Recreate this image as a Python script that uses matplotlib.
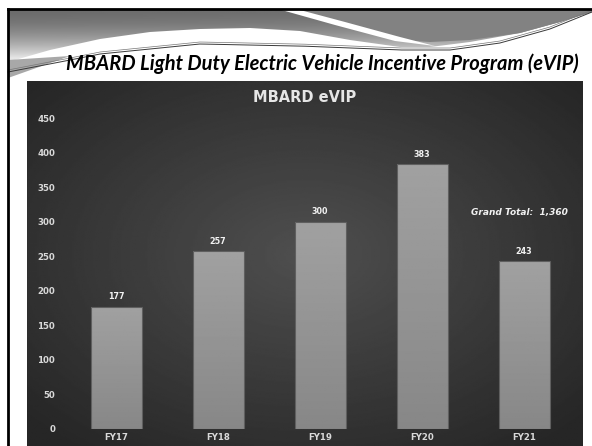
import numpy as np
import matplotlib
matplotlib.use("Agg")
import matplotlib.pyplot as plt
from matplotlib.patches import Polygon

categories = ["FY17", "FY18", "FY19", "FY20", "FY21"]
values = [177, 257, 300, 383, 243]
yticks = [0, 50, 100, 150, 200, 250, 300, 350, 400, 450]
slide_title = "MBARD Light Duty Electric Vehicle Incentive Program (eVIP)"
chart_title = "MBARD eVIP"
grand_total = "Grand Total:  1,360"

W, H = 592, 446
fig = plt.figure(figsize=(W / 100, H / 100), dpi=100)
fig.patch.set_facecolor("white")

deco = fig.add_axes([0, 0, 1, 1])
deco.set_xlim(0, W)
deco.set_ylim(H, 0)
deco.axis("off")

# top gray band with gradient (dark top, light bottom)
yy = np.linspace(0, 1, 100)[:, None]
xx = np.linspace(0, 1, 300)[None, :]
band = np.clip(0.42 + 0.55 * yy ** 1.8 + 0.03 * xx, 0, 0.9)
im = deco.imshow(band, cmap="gray", vmin=0, vmax=1, extent=(8, W, 62, 9),
                 aspect="auto", zorder=1)
px = [8, 592, 592, 560, 520, 470, 430, 400, 350, 300, 250, 200, 150, 100, 50, 8]
py = [9, 9, 12, 22, 33, 42, 47, 47, 40, 31, 28, 29, 32, 39, 50, 62]
clip = Polygon(np.c_[px, py], closed=True, transform=deco.transData)
im.set_clip_path(clip)
# darker region right of the streak
rx = [290, 592, 592, 560, 520, 470, 430, 400, 340]
ry = [9, 9, 12, 22, 33, 40, 42, 40, 22]
deco.add_patch(Polygon(np.c_[rx, ry], closed=True, facecolor="#828282",
                       edgecolor="none", zorder=2))
# small gray sliver bottom-left
deco.add_patch(Polygon([[8, 60], [70, 56], [8, 78]], closed=True,
                       facecolor="#a8a8a8", edgecolor="none", zorder=2))
# white streak
sx = [278, 300, 345, 400, 435, 395, 335]
sy = [9, 10, 22, 37, 46, 41, 25]
deco.add_patch(Polygon(np.c_[sx, sy], closed=True, facecolor="white",
                       edgecolor="none", zorder=3))
# thin curved lines
kx = [8, 50, 100, 200, 300, 400, 450, 500, 550, 592]
ky = [72, 64, 54, 44, 46, 50, 50, 43, 29, 12]
cx = np.linspace(8, 592, 400)
cy = np.interp(cx, kx, ky)
deco.plot(cx, cy, color="#3a3a3a", lw=0.7, zorder=4)
deco.plot(cx, cy - 2, color="#777777", lw=0.5, zorder=4)

# frame
deco.plot([8, 8], [9, H], color="black", lw=2, zorder=5)
deco.plot([8, W], [9, 9], color="black", lw=2, zorder=5)

# slide title
deco.text(322, 64, slide_title, ha="center", va="center", fontsize=14.5,
          fontweight="bold", fontstyle="italic", family="Lato", color="black",
          zorder=5)

# dark chart panel with radial gradient
qx0, qx1, qy0, qy1 = 27, 583, 81, H
gx = np.linspace(-1, 1, 300)[None, :]
gy = np.linspace(-1, 1, 300)[:, None]
r = np.sqrt(gx ** 2 + (gy + 0.05) ** 2)
grad = 0.31 - 0.16 * np.clip(r / 1.35, 0, 1)
deco.imshow(grad, cmap="gray", vmin=0, vmax=1, extent=(qx0, qx1, qy1, qy0),
            aspect="auto", zorder=1)

# chart title
deco.text(305, 97, chart_title, ha="center", va="center", fontsize=10.5,
          fontweight="bold", family="DejaVu Sans", color="#e6e6e6", zorder=5)

# chart axes
ax = fig.add_axes([65 / W, 1 - 429 / H, (575 - 65) / W, (429 - 118) / H])
ax.patch.set_alpha(0)
x = np.arange(len(categories))
bars = ax.bar(x, values, width=0.5, color="#959595", edgecolor="#5f5f5f",
              linewidth=0.8, zorder=3)
ax.set_xlim(-0.5, len(categories) - 0.5)
ax.set_ylim(0, 450)
vg = np.linspace(0, 1, 100)[:, None]
for b in bars:
    bx0, by0 = b.get_x(), b.get_y()
    bw, bh = b.get_width(), b.get_height()
    g = ax.imshow(0.63 - 0.1 * vg, cmap="gray", vmin=0, vmax=1,
                  extent=(bx0, bx0 + bw, by0, by0 + bh), aspect="auto",
                  zorder=3.5, origin="upper")
    g.set_clip_path(b)
    b.set_facecolor("none")
    b.set_zorder(4)
ax.set_xlim(-0.5, len(categories) - 0.5)
ax.set_ylim(0, 450)
for xi, v in zip(x, values):
    ax.text(xi, v + 8, str(v), ha="center", va="bottom", fontsize=5.8,
            fontweight="bold", color="#f2f2f2")
ax.set_yticks(yticks)
ax.set_yticklabels([str(v) for v in yticks])
ax.set_xticks(x)
ax.set_xticklabels(categories)
for s in ax.spines.values():
    s.set_visible(False)
ax.tick_params(axis="both", length=0, colors="#d9d9d9", labelsize=6.2)
ax.tick_params(axis="y", pad=7)
ax.tick_params(axis="x", pad=3)
for lab in ax.get_xticklabels() + ax.get_yticklabels():
    lab.set_fontweight("bold")
ax.text(3.96, 313, grand_total, ha="center", va="center", fontsize=6.5,
        fontweight="bold", fontstyle="italic", color="#f2f2f2")

fig.savefig("out.png", dpi=100)
